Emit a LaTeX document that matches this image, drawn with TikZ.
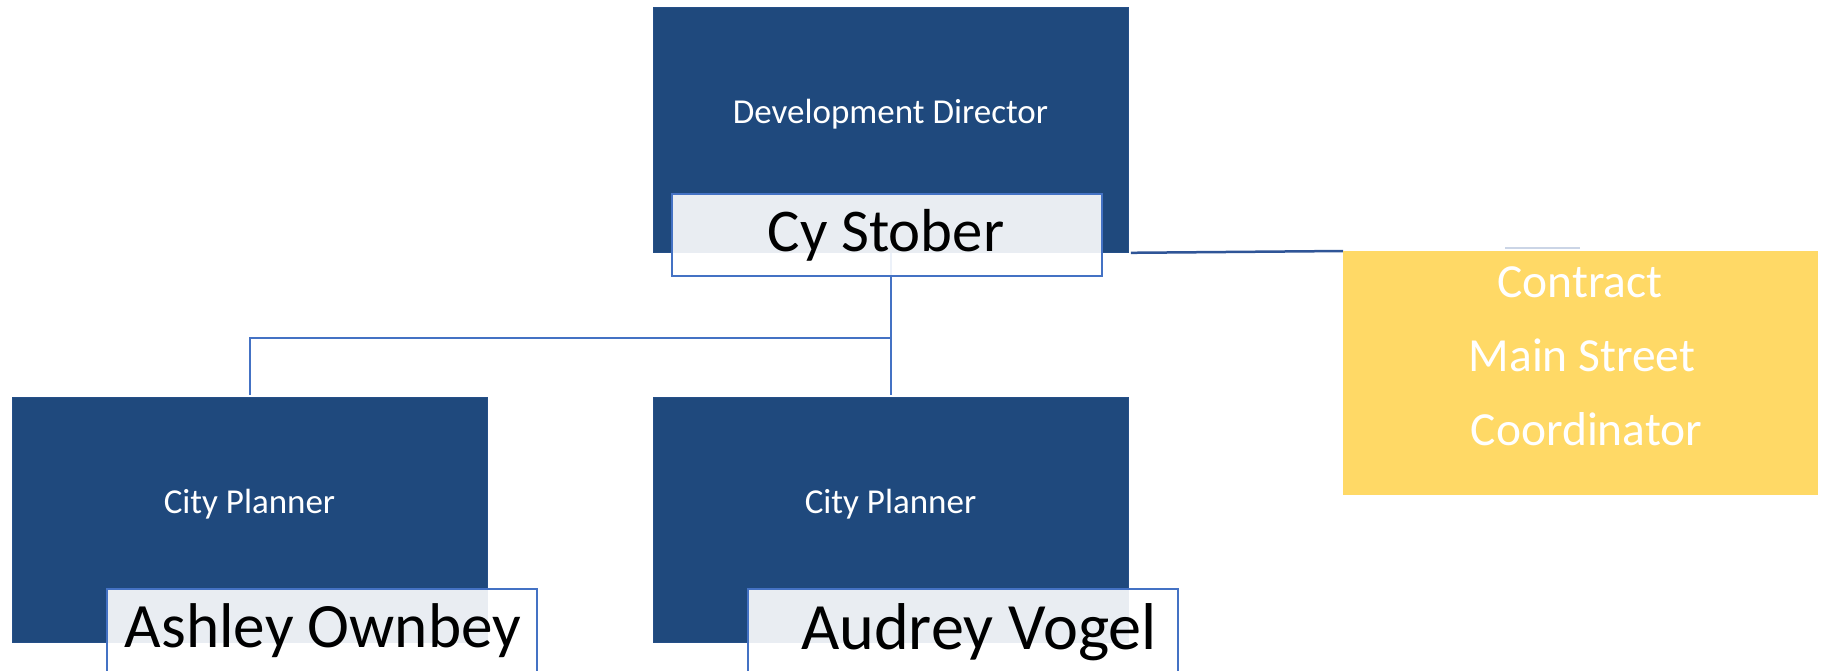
\documentclass[tikz,border=0pt]{standalone}
\usepackage{fontspec}
\setmainfont{Carlito}
\usetikzlibrary{backgrounds}
\definecolor{dkblue}{HTML}{1F497D}
\definecolor{acc}{HTML}{4472C4}
\definecolor{gold}{HTML}{FFD966}
\definecolor{conn}{HTML}{2F5597}
\definecolor{faintline}{HTML}{CBD5E6}
\begin{document}
\begin{tikzpicture}[x=1pt,y=-1pt,
  rolebox/.style={rectangle, fill=dkblue, draw=dkblue!85!acc, line width=0.8pt,
    minimum width=475pt, minimum height=245pt, inner sep=0pt, anchor=north west},
  goldbox/.style={rectangle, fill=gold, minimum width=475pt, minimum height=244pt,
    inner sep=0pt, anchor=north west},
  namebox/.style={rectangle, fill=white, fill opacity=0.9, draw=acc, line width=2pt,
    minimum width=430pt, inner sep=0pt, anchor=north west},
  roletext/.style={text=white, font=\fontsize{35}{42}\selectfont, anchor=base, inner sep=0pt},
  goldtext/.style={text=white, font=\fontsize{47.5}{56}\selectfont, anchor=base, inner sep=0pt},
  nametext/.style={text=black, anchor=base, inner sep=0pt},
  link/.style={draw=acc, line width=2pt},
  sidelink/.style={draw=conn, line width=2.5pt},
]
\useasboundingbox (0,0) rectangle (1823,670);
\clip (0,0) rectangle (1823,670);

% boxes
\node[rolebox] (dd) at (653,7) {};
\node[rolebox] (cp1) at (12,397) {};
\node[rolebox] (cp2) at (653,397) {};
\node[goldbox] (msc) at (1343,251) {};

% name boxes
\node[namebox, minimum height=82pt] (cy) at (671,193) {};
\node[namebox, minimum height=100pt] (ao) at (106,588) {};
\node[namebox, minimum height=100pt] (av) at (746.5,588) {};

% connectors (behind)
\begin{scope}[on background layer]
  \coordinate (j) at (dd.south |- 0,338);
  \draw[link, shorten >=2pt] (dd.south) -- (cp2.north);
  \draw[link, shorten >=2pt] (j) -| (cp1.north);
  \draw[sidelink] ([xshift=2pt]dd.south east) -- (msc.north west);
  \draw[faintline, line width=1.5pt] (1505,248) -- (1580,248);
\end{scope}

% texts
\node[roletext] (ddt) at (890.5,123) {Development Director};
\node[roletext] (cp1t) at (249.5,513) {City Planner};
\node[roletext] (cp2t) at (890.5,513) {City Planner};

\node[nametext, font=\fontsize{60.7}{70}\selectfont] (cyt) at (886,251) {Cy Stober};
\node[nametext, font=\fontsize{63.2}{72}\selectfont] (aot) at (323,647) {Ashley Ownbey};
\node[nametext, font=\fontsize{66.2}{76}\selectfont] (avt) at (979,649.3) {Audrey Vogel};

\node[goldtext] (m1) at (1580,297) {Contract};
\node[goldtext] (m2) at (1582,371) {Main Street};
\node[goldtext] (m3) at (1586.5,445) {Coordinator};
\end{tikzpicture}
\end{document}
